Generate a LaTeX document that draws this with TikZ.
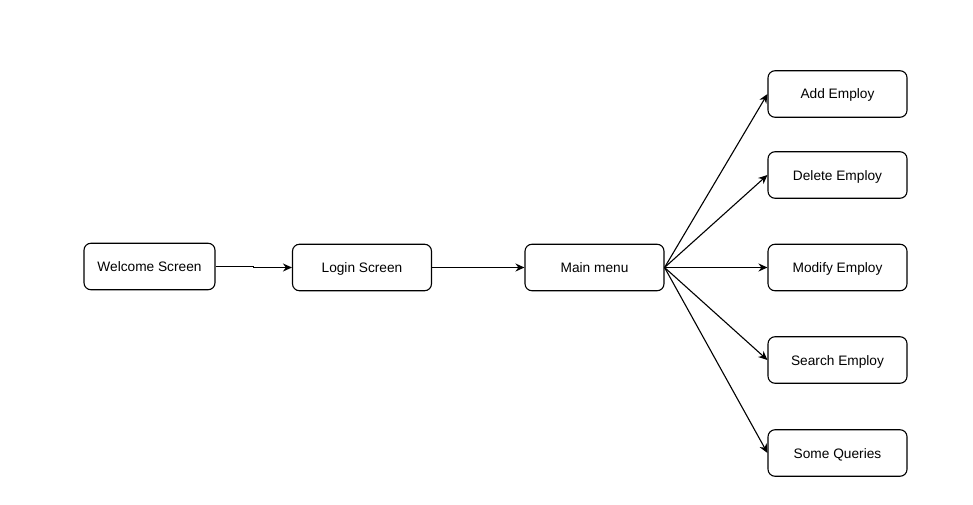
\documentclass[tikz,border=0pt]{standalone}
\usepackage{fontspec}
\setmainfont{Liberation Sans}
\usetikzlibrary{arrows.meta}
\begin{document}
\begin{tikzpicture}[x=1pt,y=-1pt,
  box/.style={draw=black, line width=1.1pt, rounded corners=7pt, minimum width=139pt, minimum height=46.5pt, inner sep=0pt, text height=10pt, text depth=0pt, font=\fontsize{13.7pt}{16pt}\selectfont, anchor=center},
  conn/.style={draw=black, line width=1.1pt, -{Stealth[length=9pt,width=8pt]}}]
\useasboundingbox[fill=white] (0,0) rectangle (973,505);
\node[box, minimum width=131pt] (ws) at (149.5,266.5) {Welcome Screen};
\node[box] (login) at (362,267.5) {Login Screen};
\node[box] (main) at (594.5,267.5) {Main menu};
\node[box] (add) at (837.5,94) {Add Employ};
\node[box] (del) at (837.5,175) {Delete Employ};
\node[box] (mod) at (837.5,267.5) {Modify Employ};
\node[box] (srch) at (837.5,360) {Search Employ};
\node[box] (sq) at (837.5,453) {Some Queries};
\draw[conn] (ws.east) -- ++(38,0) |- (login.west);
\draw[conn] (login.east) -- (main.west);
\draw[conn] (main.east) -- (add.west);
\draw[conn] (main.east) -- (del.west);
\draw[conn] (main.east) -- (mod.west);
\draw[conn] (main.east) -- (srch.west);
\draw[conn] (main.east) -- (sq.west);
\end{tikzpicture}
\end{document}
